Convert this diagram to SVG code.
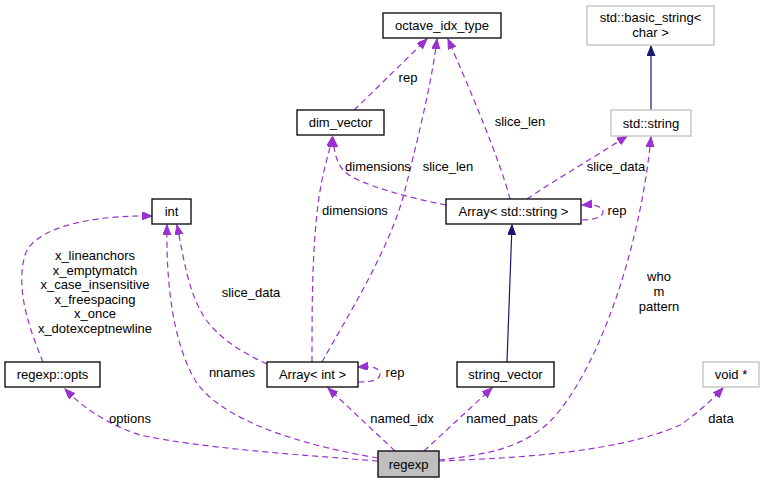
<svg xmlns="http://www.w3.org/2000/svg" width="764" height="483" viewBox="0 0 764 483">
<style>
.n rect{fill:#fff;stroke:#000;stroke-width:1.3}
.g rect{fill:#fff;stroke:#bfbfbf;stroke-width:1.3}
.f rect{fill:#bfbfbf;stroke:#000;stroke-width:1.3}
text{font-family:"Liberation Sans",Arial,sans-serif;font-size:13px;fill:#000}
.c{text-anchor:middle}
.e path{fill:none;stroke:#9a32cd;stroke-width:1.2;stroke-dasharray:6,4;marker-end:url(#ap)}
.e path.s{stroke:#191970;stroke-dasharray:none;marker-end:url(#an)}
</style>
<defs>
<marker id="ap" markerUnits="userSpaceOnUse" markerWidth="11" markerHeight="9" refX="10" refY="4" orient="auto"><path d="M0,0 L10,4 L0,8 z" fill="#9a32cd" stroke="#9a32cd"/></marker>
<marker id="an" markerUnits="userSpaceOnUse" markerWidth="11" markerHeight="9" refX="10" refY="4" orient="auto"><path d="M0,0 L10,4 L0,8 z" fill="#191970" stroke="#191970"/></marker>
</defs>
<rect width="764" height="483" fill="#fff"/>
<g id="edges" class="e">
<path d="M354,110 C370,95 400,65 427,39"/>
<path d="M322,362 C345,320 390,250 405,190 C420,130 432,80 437,39"/>
<path d="M510,199 C500,160 470,90 448,39"/>
<path d="M446,205 C410,198 360,185 345,172 C338,165 334,155 333,137"/>
<path d="M312,362 C312,300 312,230 322,180 C326,160 330,150 332,137"/>
<path d="M527,199 C550,183 590,160 627,136"/>
<path d="M582,220 C594,220 603,217 603,212 C603,207 595,204 582,205"/>
<path class="s" d="M651,110 L651,46"/>
<path class="s" d="M507,362 L512,225"/>
<path d="M267,364 C240,352 215,335 203,315 C188,290 184,260 177,225"/>
<path d="M378,458 C300,445 220,420 195,380 C172,340 166,280 167,225"/>
<path d="M43,362 C30,330 15,290 25,255 C35,225 100,215 152,216"/>
<path d="M378,461 C300,455 200,448 140,435 C110,425 85,410 65,389"/>
<path d="M395,451 L328,388"/>
<path d="M424,451 L492,388"/>
<path d="M439,460 C480,455 530,450 560,410 C600,360 640,250 651,137"/>
<path d="M439,461 C520,458 620,452 680,425 C695,415 710,402 723,388"/>
<path d="M358,382 C372,382 380,380 380,374 C380,368 373,366 358,367"/>
</g>
<g id="edge-labels">
<text class="c" x="408" y="82">rep</text>
<text class="c" x="520" y="126">slice_len</text>
<text class="c" x="378" y="171">dimensions</text>
<text class="c" x="448" y="171">slice_len</text>
<text class="c" x="355" y="215">dimensions</text>
<text class="c" x="251" y="297">slice_data</text>
<text class="c" x="616" y="171">slice_data</text>
<text class="c" x="617" y="215">rep</text>
<text class="c" x="232" y="377">nnames</text>
<text class="c" x="395" y="377">rep</text>
<text class="c" x="402" y="423">named_idx</text>
<text class="c" x="502" y="423">named_pats</text>
<text class="c" x="130" y="423">options</text>
<text class="c" x="721" y="423">data</text>
<text class="c" x="659" y="281">who</text>
<text class="c" x="659" y="296">m</text>
<text class="c" x="659" y="311">pattern</text>
<text class="c" x="95" y="260">x_lineanchors</text>
<text class="c" x="95" y="274.5">x_emptymatch</text>
<text class="c" x="95" y="289">x_case_insensitive</text>
<text class="c" x="95" y="303.5">x_freespacing</text>
<text class="c" x="95" y="318">x_once</text>
<text class="c" x="95" y="332.5">x_dotexceptnewline</text>
</g>
<g id="octave_idx_type" class="n"><rect x="383" y="13" width="118" height="25"/><text class="c" x="442" y="30">octave_idx_type</text></g>
<g id="basic_string" class="g"><rect x="587" y="6" width="127" height="39"/><text class="c" x="650.5" y="22">std::basic_string&lt;</text><text class="c" x="650.5" y="37">char &gt;</text></g>
<g id="std_string" class="g"><rect x="611" y="110" width="80" height="26"/><text class="c" x="651" y="127.5">std::string</text></g>
<g id="dim_vector" class="n"><rect x="297" y="110" width="87" height="25"/><text class="c" x="340.5" y="127">dim_vector</text></g>
<g id="array_string" class="n"><rect x="446" y="199" width="135" height="25"/><text class="c" x="513.5" y="216">Array&lt; std::string &gt;</text></g>
<g id="int" class="n"><rect x="152" y="199" width="39" height="25"/><text class="c" x="171.5" y="216">int</text></g>
<g id="regexp_opts" class="n"><rect x="5" y="362" width="95" height="25"/><text class="c" x="52.5" y="379">regexp::opts</text></g>
<g id="array_int" class="n"><rect x="267" y="362" width="91" height="25"/><text class="c" x="312.5" y="379">Array&lt; int &gt;</text></g>
<g id="string_vector" class="n"><rect x="457" y="362" width="97" height="25"/><text class="c" x="505.5" y="379">string_vector</text></g>
<g id="void_ptr" class="g"><rect x="703" y="362" width="56" height="25"/><text class="c" x="731" y="379">void *</text></g>
<g id="regexp" class="f"><rect x="378" y="451" width="61" height="26"/><text class="c" x="408.5" y="468.5">regexp</text></g>
</svg>
